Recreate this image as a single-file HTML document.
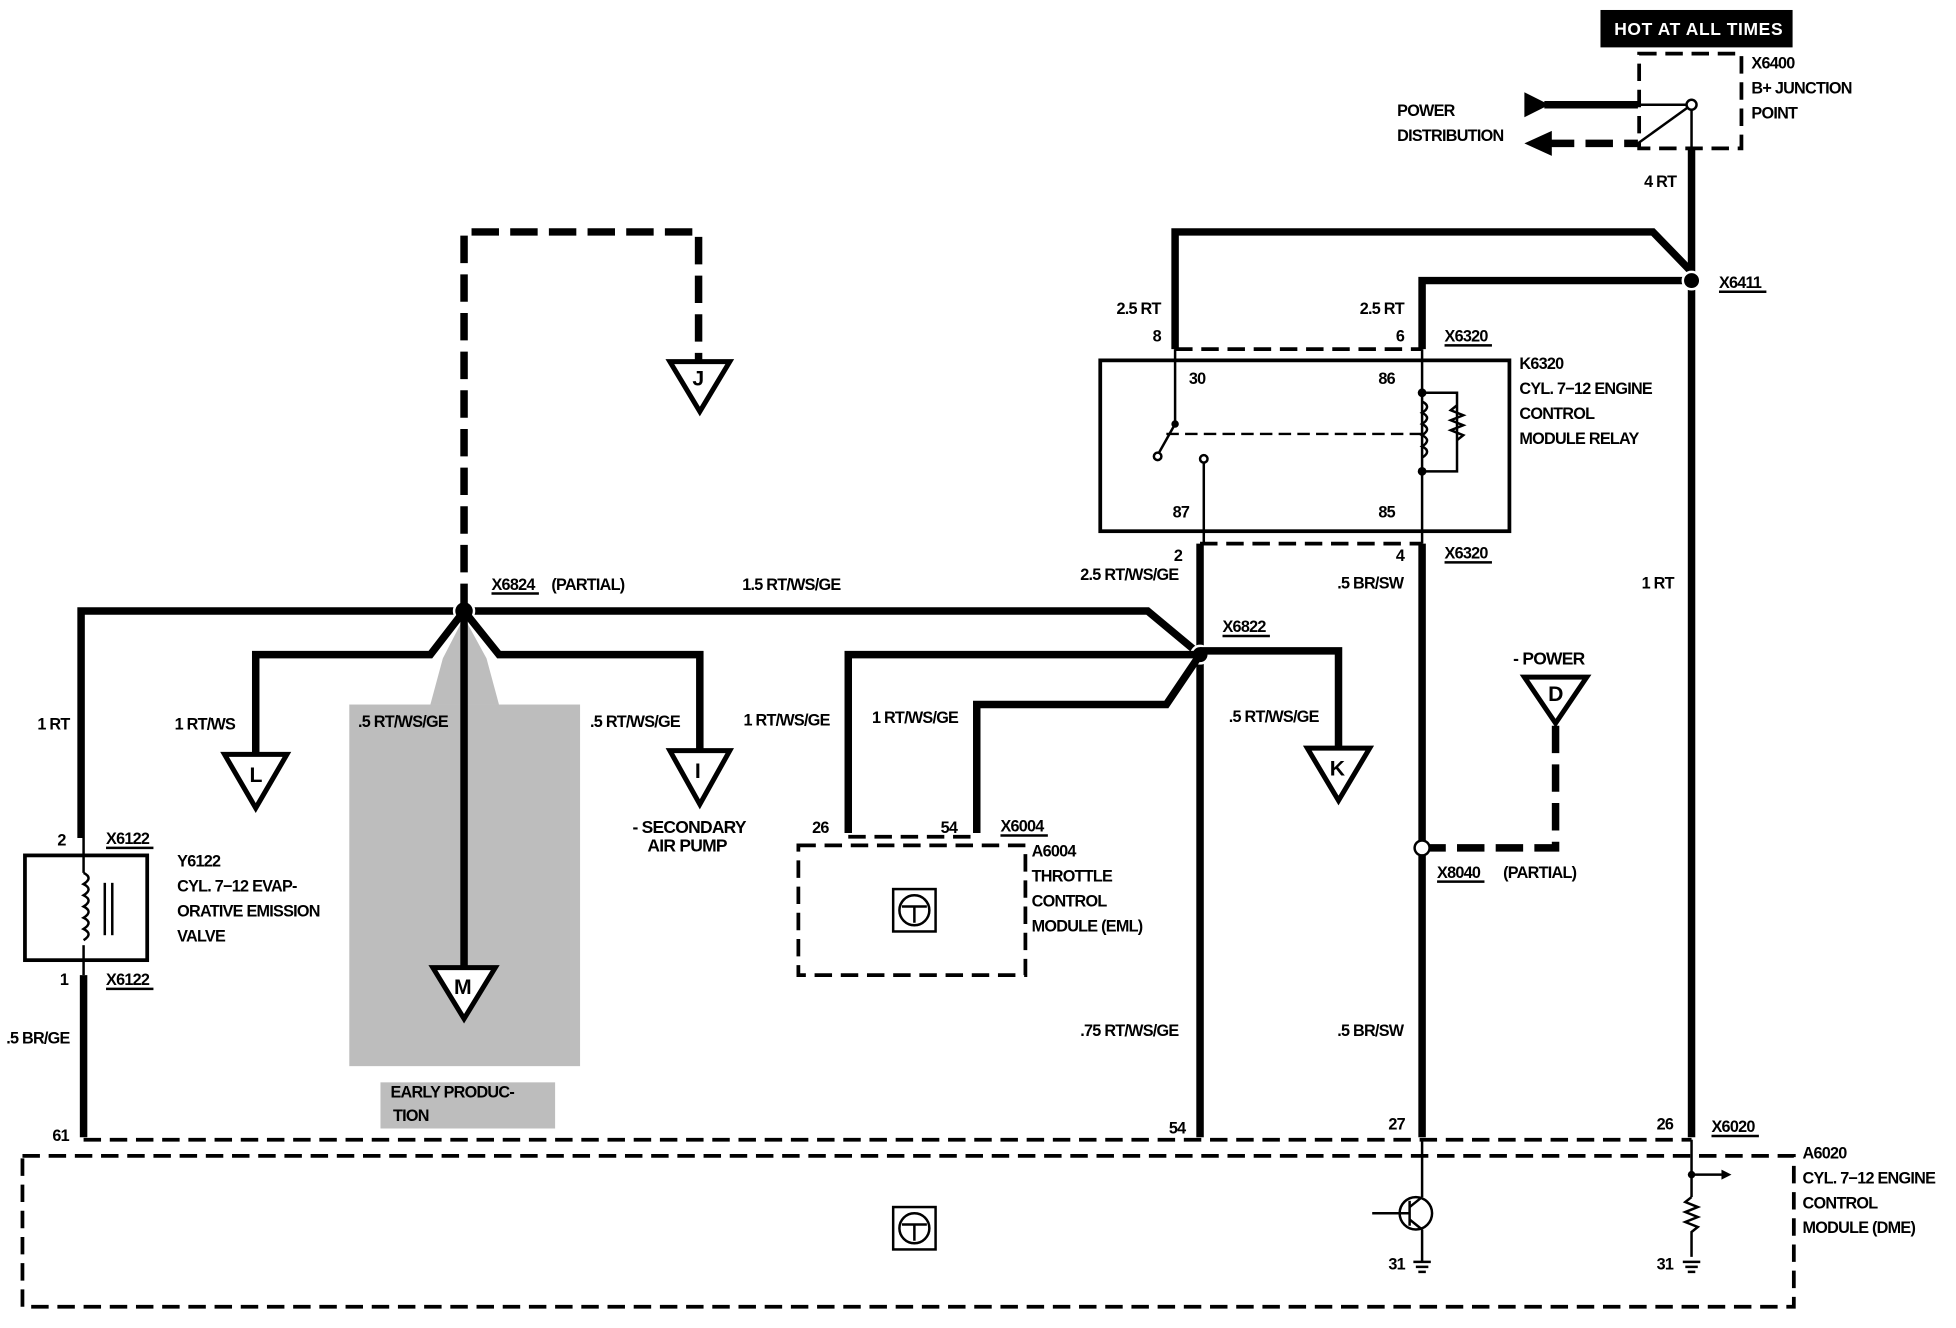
<!DOCTYPE html>
<html><head><meta charset="utf-8"><style>
html,body{margin:0;padding:0;background:#fff;}
svg{display:block;}
text{font-family:"Liberation Sans",sans-serif;font-size:13px;font-weight:bold;fill:#000;letter-spacing:-0.6px;}
text.L{font-size:17px;letter-spacing:0;}
.w{stroke:#000;stroke-width:6;fill:none;stroke-linejoin:miter;}
.t{stroke:#000;stroke-width:2;fill:none;}
.d{stroke:#000;stroke-width:3;fill:none;stroke-dasharray:14 7;}
.dw{stroke:#000;stroke-width:6;fill:none;stroke-dasharray:22 9;}
.tri{fill:#fff;stroke:#000;stroke-width:4;}
</style></head><body>
<svg width="1956" height="1328" viewBox="0 0 1568 1065" preserveAspectRatio="none" xmlns="http://www.w3.org/2000/svg">
<rect x="280" y="565" width="185" height="290" fill="#bdbdbd"/>
<polygon points="372,495 355,528 345,565 400,565 390,528" fill="#bdbdbd"/>
<rect x="305" y="868" width="140" height="37" fill="#bdbdbd"/>
<text x="313" y="880">EARLY PRODUC-</text><text x="315" y="899">TION</text>

<rect x="1283" y="8" width="154" height="30" fill="#000"/>
<text x="1294" y="28" style="fill:#fff;font-size:14px;letter-spacing:0.5px">HOT AT ALL TIMES</text>
<rect x="1314" y="43" width="82" height="76" class="d"/>
<text x="1404" y="55">X6400</text><text x="1404" y="75">B+ JUNCTION</text><text x="1404" y="95">POINT</text>
<line x1="1238" y1="84" x2="1313" y2="84" class="w"/>
<polygon points="1222,74 1242,84 1222,94" fill="#000"/>
<line x1="1313" y1="84" x2="1352" y2="84" class="t"/>
<line x1="1240" y1="115" x2="1313" y2="115" class="dw"/>
<polygon points="1222,115 1244,105 1244,125" fill="#000"/>
<line x1="1313" y1="115" x2="1356" y2="84" class="t"/>
<line x1="1356" y1="84" x2="1356" y2="120" class="t"/>
<circle cx="1356" cy="84" r="4" fill="#fff" stroke="#000" stroke-width="2"/>
<text x="1120" y="93">POWER</text><text x="1120" y="113">DISTRIBUTION</text>

<line x1="1356" y1="120" x2="1356" y2="912" class="w"/>
<text x="1318" y="150">4 RT</text>
<text x="1316" y="472">1 RT</text>
<polyline points="942,280 942,186 1325,186 1356,218" class="w"/>
<polyline points="1140,280 1140,225 1356,225" class="w"/>
<circle cx="1356" cy="225" r="7" fill="#000" stroke="#fff" stroke-width="2"/>
<text x="1378" y="231">X6411</text><line x1="1378" y1="234" x2="1416" y2="234" class="t" stroke-width="1"/>

<text x="895" y="252">2.5 RT</text><text x="1090" y="252">2.5 RT</text>
<text x="924" y="274">8</text><text x="1119" y="274">6</text>
<text x="1158" y="274">X6320</text><line x1="1158" y1="277" x2="1196" y2="277" class="t" stroke-width="1"/>
<line x1="942" y1="280" x2="1140" y2="280" class="d" stroke-width="2"/>
<rect x="882" y="289" width="328" height="137" fill="none" stroke="#000" stroke-width="3"/>
<text x="953" y="308">30</text><text x="1105" y="308">86</text>
<text x="940" y="415">87</text><text x="1105" y="415">85</text>
<text x="1218" y="296">K6320</text><text x="1218" y="316">CYL. 7−12 ENGINE</text><text x="1218" y="336">CONTROL</text><text x="1218" y="356">MODULE RELAY</text>
<line x1="942" y1="280" x2="942" y2="340" class="t"/>
<line x1="942" y1="340" x2="928" y2="365" class="t"/>
<circle cx="942" cy="340" r="3" fill="#000"/>
<line x1="965" y1="368" x2="965" y2="436" class="t"/>
<circle cx="965" cy="368" r="3" fill="#fff" stroke="#000" stroke-width="2"/>
<circle cx="928" cy="366" r="3" fill="#fff" stroke="#000" stroke-width="2"/>
<line x1="935" y1="348" x2="1140" y2="348" stroke="#000" stroke-width="2" stroke-dasharray="10 5"/>
<line x1="1140" y1="280" x2="1140" y2="436" class="t"/>
<path d="M1140,322 q8,4 0,9 q8,4 0,9 q8,4 0,9 q8,4 0,9 q8,4 0,9" class="t"/>
<polyline points="1140,315 1168,315 1168,378 1140,378" class="t"/>
<path d="M1168,325 l-5,4 l10,4 l-10,4 l10,4 l-10,4 l10,4 l-5,4" class="t"/>
<circle cx="1140" cy="315" r="3.5" fill="#000"/><circle cx="1140" cy="378" r="3.5" fill="#000"/>
<line x1="962" y1="436" x2="1140" y2="436" class="d" stroke-width="2"/>
<text x="941" y="450">2</text><text x="1119" y="450">4</text>
<text x="1158" y="448">X6320</text><line x1="1158" y1="451" x2="1196" y2="451" class="t" stroke-width="1"/>
<text x="866" y="465">2.5 RT/WS/GE</text><text x="1072" y="472">.5 BR/SW</text>

<line x1="962" y1="436" x2="962" y2="912" class="w"/>
<line x1="1140" y1="436" x2="1140" y2="912" class="w"/>

<polyline points="65,672 65,490 920,490 962,525" class="w"/>
<circle cx="372" cy="490" r="8" fill="#000" stroke="#fff" stroke-width="2"/>
<text x="394" y="473">X6824</text><line x1="394" y1="476" x2="432" y2="476" class="t" stroke-width="1"/>
<text x="442" y="473">(PARTIAL)</text><text x="595" y="473">1.5 RT/WS/GE</text>

<polyline points="372,490 372,186 560,186 560,292" class="dw"/>
<polygon points="537,290 585,290 561,330" class="tri"/><text class="L" x="555" y="309">J</text>
<polyline points="372,490 345,525 205,525 205,605" class="w"/>
<polygon points="180,605 230,605 205,648" class="tri"/><text class="L" x="200" y="627">L</text>
<polyline points="372,490 400,525 561,525 561,602" class="w"/>
<polygon points="537,602 585,602 561,645" class="tri"/><text class="L" x="557" y="624">I</text>
<line x1="372" y1="490" x2="372" y2="778" class="w"/>
<polygon points="347,776 397,776 372,817" class="tri"/><text class="L" x="364" y="797">M</text>

<text x="30" y="585">1 RT</text><text x="140" y="585">1 RT/WS</text>
<text x="287" y="583">.5 RT/WS/GE</text><text x="473" y="583">.5 RT/WS/GE</text>
<text x="507" y="668" style="font-size:14px">- SECONDARY</text><text x="519" y="683" style="font-size:14px">AIR PUMP</text>

<circle cx="962" cy="525" r="7" fill="#000" stroke="#fff" stroke-width="2"/>
<text x="980" y="507">X6822</text><line x1="980" y1="510" x2="1018" y2="510" class="t" stroke-width="1"/>
<polyline points="962,522 1073,522 1073,602" class="w"/>
<polygon points="1048,600 1098,600 1073,642" class="tri"/><text class="L" x="1066" y="622">K</text>
<text x="985" y="579">.5 RT/WS/GE</text>
<polyline points="962,525 680,525 680,668" class="w"/>
<polyline points="962,525 935,565 783,565 783,668" class="w"/>
<text x="596" y="582">1 RT/WS/GE</text><text x="699" y="580">1 RT/WS/GE</text>
<line x1="680" y1="671" x2="783" y2="671" class="d" stroke-width="2"/>
<text x="651" y="668">26</text><text x="754" y="668">54</text>
<text x="802" y="667">X6004</text><line x1="802" y1="670" x2="840" y2="670" class="t" stroke-width="1"/>
<rect x="640" y="678" width="182" height="104" class="d"/>
<rect x="716" y="713" width="34" height="34" fill="none" stroke="#000" stroke-width="2"/>
<circle cx="733" cy="730" r="12" fill="none" stroke="#000" stroke-width="2"/>
<path d="M723,727 h20 M733,727 v13" class="t"/>
<text x="827" y="687">A6004</text><text x="827" y="707">THROTTLE</text><text x="827" y="727">CONTROL</text><text x="827" y="747">MODULE (EML)</text>

<text x="1213" y="533" style="font-size:14px">- POWER</text>
<polygon points="1222,543 1272,543 1247,580" class="tri"/><text class="L" x="1241" y="562">D</text>
<polyline points="1247,582 1247,680 1140,680" class="dw"/>
<circle cx="1140" cy="680" r="6" fill="#fff" stroke="#000" stroke-width="2"/>
<text x="1152" y="704">X8040</text><line x1="1152" y1="707" x2="1190" y2="707" class="t" stroke-width="1"/>
<text x="1205" y="704">(PARTIAL)</text>
<text x="866" y="831">.75 RT/WS/GE</text><text x="1072" y="831">.5 BR/SW</text>

<text x="46" y="678">2</text><text x="85" y="677">X6122</text><line x1="85" y1="680" x2="123" y2="680" class="t" stroke-width="1"/>
<rect x="20" y="686" width="98" height="84" fill="none" stroke="#000" stroke-width="3"/>
<line x1="67" y1="672" x2="67" y2="700" class="t"/><line x1="67" y1="758" x2="67" y2="782" class="t"/>
<path d="M67,700 q8,4 0,9 q8,4 0,9 q8,4 0,9 q8,4 0,9 q8,4 0,9 q8,4 0,9" class="t"/>
<line x1="84" y1="708" x2="84" y2="750" class="t"/><line x1="90" y1="708" x2="90" y2="750" class="t"/>
<text x="142" y="695">Y6122</text><text x="142" y="715">CYL. 7−12 EVAP-</text><text x="142" y="735">ORATIVE EMISSION</text><text x="142" y="755">VALVE</text>
<text x="48" y="790">1</text><text x="85" y="790">X6122</text><line x1="85" y1="793" x2="123" y2="793" class="t" stroke-width="1"/>
<line x1="67" y1="782" x2="67" y2="912" class="w"/>
<text x="5" y="837">.5 BR/GE</text>

<line x1="67" y1="914" x2="1356" y2="914" class="d" stroke-width="2"/>
<text x="42" y="915">61</text><text x="937" y="909">54</text><text x="1113" y="906">27</text><text x="1328" y="906">26</text>
<text x="1372" y="908">X6020</text><line x1="1372" y1="911" x2="1410" y2="911" class="t" stroke-width="1"/>
<rect x="18" y="927" width="1420" height="121" class="d"/>
<rect x="716" y="968" width="34" height="34" fill="none" stroke="#000" stroke-width="2"/>
<circle cx="733" cy="985" r="12" fill="none" stroke="#000" stroke-width="2"/>
<path d="M723,982 h20 M733,982 v13" class="t"/>
<text x="1445" y="929">A6020</text><text x="1445" y="949">CYL. 7−12 ENGINE</text><text x="1445" y="969">CONTROL</text><text x="1445" y="989">MODULE (DME)</text>
<line x1="1140" y1="914" x2="1140" y2="960" class="t"/>
<circle cx="1135" cy="973" r="13" fill="none" stroke="#000" stroke-width="2"/>
<line x1="1130" y1="963" x2="1130" y2="983" class="t"/>
<line x1="1130" y1="968" x2="1140" y2="960" class="t"/><line x1="1130" y1="978" x2="1140" y2="986" class="t"/>
<line x1="1100" y1="973" x2="1130" y2="973" class="t"/>
<line x1="1140" y1="986" x2="1140" y2="1012" class="t"/>
<path d="M1133,1012 h14 M1135,1016 h10 M1137,1020 h6" class="t"/>
<text x="1113" y="1018">31</text>
<line x1="1356" y1="914" x2="1356" y2="960" class="t"/>
<circle cx="1356" cy="942" r="3" fill="#000"/>
<line x1="1356" y1="942" x2="1380" y2="942" class="t"/><polygon points="1380,938 1388,942 1380,946" fill="#000"/>
<path d="M1356,960 l-5,4 l10,4 l-10,4 l10,4 l-10,4 l10,4 l-5,4 v20" class="t"/>
<path d="M1349,1012 h14 M1351,1016 h10 M1353,1020 h6" class="t"/>
<text x="1328" y="1018">31</text>
</svg>
</body></html>
